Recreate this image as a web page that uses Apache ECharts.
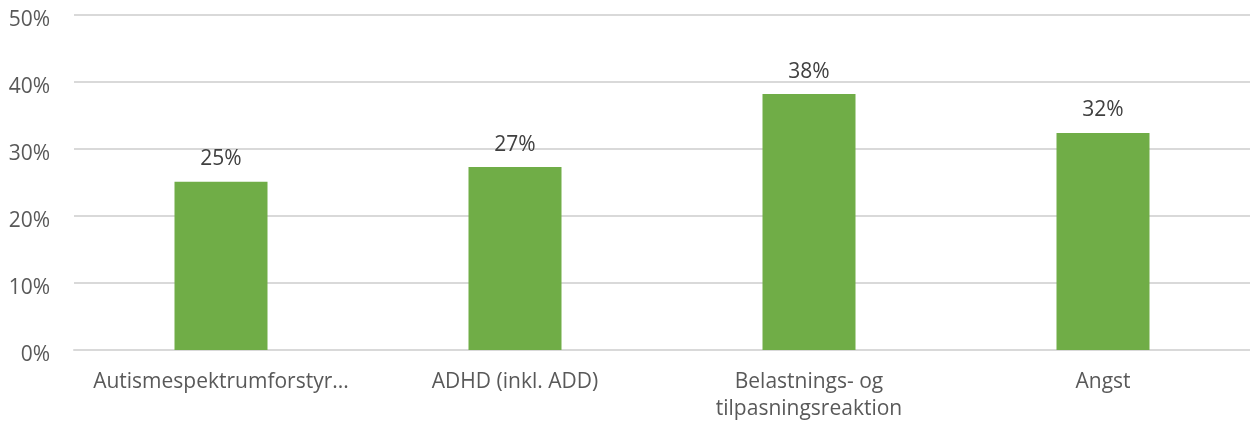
<!DOCTYPE html>
<html>
<head>
<meta charset="utf-8">
<script src="https://cdn.jsdelivr.net/npm/echarts@6/dist/echarts.min.js"></script>
<style>
html,body{margin:0;padding:0;background:#fff;}
#chart{width:1250px;height:423px;}
</style>
</head>
<body>
<div id="chart"></div>
<script>
const categories = ["Autismespektrumforstyr...", "ADHD (inkl. ADD)", "Belastnings- og\ntilpasningsreaktion", "Angst"];
const values = [25.1, 27.3, 38.2, 32.4];
const yTicks = [0, 10, 20, 30, 40, 50];

const FONT = 'Open Sans, sans-serif';
const chart = echarts.init(document.getElementById('chart'), null, {renderer: 'canvas'});
chart.setOption({
  animation: false,
  grid: {left: 74, right: 0, top: 15, bottom: 73, containLabel: false},
  xAxis: {
    type: 'category',
    data: categories,
    axisLine: {lineStyle: {color: '#d9d9d9', width: 2}},
    axisTick: {show: false},
    axisLabel: {color: '#595959', fontSize: 21, fontFamily: FONT, margin: 19, lineHeight: 27, interval: 0}
  },
  yAxis: {
    type: 'value',
    min: yTicks[0],
    max: yTicks[yTicks.length - 1],
    interval: 10,
    axisLine: {show: false},
    axisTick: {show: false},
    splitLine: {lineStyle: {color: '#d9d9d9', width: 2}},
    axisLabel: {
      color: '#595959', fontSize: 21, fontFamily: FONT, margin: 24,
      formatter: v => '{a|' + v + '%}',
      rich: {a: {color: '#595959', fontSize: 21, fontFamily: FONT, padding: [10, 0, 0, 0]}}
    }
  },
  series: [{
    type: 'bar',
    data: values,
    barWidth: 93,
    itemStyle: {color: '#70AD47'},
    label: {
      show: true,
      position: 'top',
      distance: 12,
      color: '#404040',
      fontSize: 21,
      fontFamily: FONT,
      formatter: p => Math.round(p.value) + '%'
    }
  }]
});
</script>
</body>
</html>
